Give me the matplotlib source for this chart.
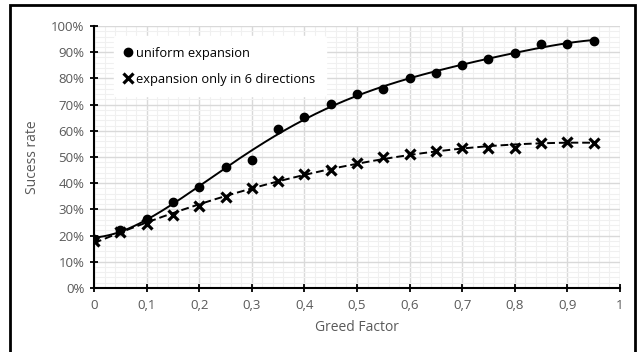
import numpy as np
import matplotlib
matplotlib.use("Agg")
import matplotlib.pyplot as plt
from matplotlib.ticker import MultipleLocator, FuncFormatter
from matplotlib.patches import Rectangle

plt.rcParams['font.family'] = ['Open Sans', 'DejaVu Sans']

greed = [0, 0.05, 0.1, 0.15, 0.2, 0.25, 0.3, 0.35, 0.4, 0.45,
         0.5, 0.55, 0.6, 0.65, 0.7, 0.75, 0.8, 0.85, 0.9, 0.95]
uniform = [18.7, 22.1, 26.2, 33.0, 38.4, 46.0, 48.7, 60.6, 65.1, 70.3,
           74.1, 76.0, 80.2, 82.0, 85.0, 87.3, 89.6, 93.1, 93.2, 94.4]
six_dirs = [18.0, 21.5, 24.4, 28.0, 31.3, 34.6, 38.0, 41.0, 43.5, 44.9,
            47.8, 50.1, 51.1, 52.4, 53.6, 53.4, 53.6, 55.5, 55.7, 55.5]

txt = '#595959'

fig = plt.figure(figsize=(6.37, 3.52), dpi=100)
ax = fig.add_axes([0.1476, 0.182, 0.8257, 0.744])

# excel style polynomial trendlines
xs = np.linspace(0, 0.95, 200)
p1 = np.polyfit(greed, uniform, 5)
p2 = np.polyfit(greed, six_dirs, 2)
ax.plot(xs, np.polyval(p1, xs), color='black', lw=1.4, zorder=3)
ax.plot(xs, np.polyval(p2, xs), color='black', lw=1.4, ls=(0, (4, 2)), zorder=3)

ax.plot(greed, uniform, 'o', color='black', ms=6, zorder=4, label='uniform expansion')
ax.plot(greed, six_dirs, 'x', color='black', ms=7, mew=2.3, zorder=4,
        label='expansion only in 6 directions')

ax.set_xlim(0, 1)
ax.set_ylim(0, 100)
ax.xaxis.set_major_locator(MultipleLocator(0.1))
ax.xaxis.set_minor_locator(MultipleLocator(0.02))
ax.yaxis.set_major_locator(MultipleLocator(10))
ax.yaxis.set_minor_locator(MultipleLocator(2))
ax.xaxis.set_major_formatter(FuncFormatter(lambda v, p: ('%g' % round(v, 2)).replace('.', ',')))
ax.yaxis.set_major_formatter(FuncFormatter(lambda v, p: '%d%%' % v))

ax.grid(which='major', color='#d9d9d9', lw=1.0, zorder=0)
ax.grid(which='minor', color='#f0f0f0', lw=0.8, zorder=0)
ax.set_axisbelow(True)

for s in ['top', 'right']:
    ax.spines[s].set_visible(False)
for s in ['left', 'bottom']:
    ax.spines[s].set_color('black')
    ax.spines[s].set_linewidth(1.5)

ax.tick_params(which='major', direction='inout', length=6, width=1.3, colors='black',
               labelcolor=txt, labelsize=9.5)
ax.tick_params(which='minor', length=0)
ax.tick_params(axis='x', pad=5)
ax.tick_params(axis='y', pad=4)

ax.set_xlabel('Greed Factor', color=txt, fontsize=10, labelpad=6)
ax.set_ylabel('Sucess rate', color=txt, fontsize=10, labelpad=8)

leg = ax.legend(loc='upper left', bbox_to_anchor=(0.025, 0.985), frameon=True,
                fontsize=9.3, handlelength=0.6, handletextpad=0.35, labelspacing=1.0,
                borderpad=0.8, labelcolor='black')
leg.get_frame().set_edgecolor('white')
leg.get_frame().set_facecolor('white')
leg.get_frame().set_alpha(1)

fig.patches.append(Rectangle((10 / 637, -0.1), 625 / 637, 0.1 + 347 / 352,
                             transform=fig.transFigure, fill=False,
                             edgecolor='black', lw=2))

fig.savefig('out.png', dpi=100)
